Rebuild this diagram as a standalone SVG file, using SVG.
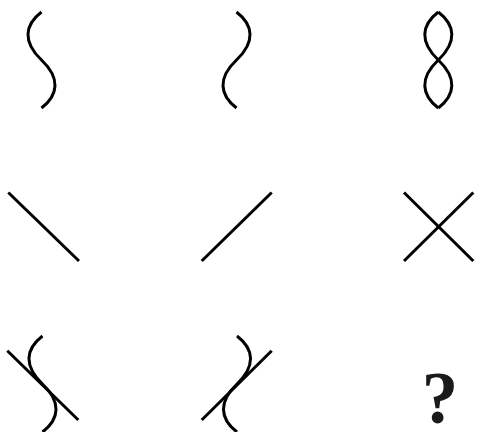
<svg xmlns="http://www.w3.org/2000/svg" width="478" height="432" viewBox="0 0 478 432">
  <defs>
    <style>
      .s { fill: none; stroke: #000; stroke-width: 3; }
      .q { font-family: "Liberation Serif", "Times New Roman", serif; font-weight: bold; font-size: 73px; fill: #1a1a1a; }
    </style>
    <path id="wave" d="M0,0 C-17,13 -19,30 0,48 C19,66 17,83 0,96"/>
  </defs>
  <rect width="478" height="432" fill="#fff"/>
  <g id="r1c1"><use href="#wave" class="s" transform="translate(41.5,12)"/></g>
  <g id="r1c2"><use href="#wave" class="s" transform="translate(236.5,12) scale(-1,1)"/></g>
  <g id="r1c3">
    <use href="#wave" class="s" transform="translate(438.3,12)"/>
    <use href="#wave" class="s" transform="translate(438.3,12) scale(-1,1)"/>
  </g>
  <g id="r2c1"><line class="s" x1="8.3" y1="192.5" x2="79" y2="261"/></g>
  <g id="r2c2"><line class="s" x1="201.7" y1="261" x2="271.7" y2="192.5"/></g>
  <g id="r2c3">
    <line class="s" x1="404" y1="192.5" x2="473.3" y2="261"/>
    <line class="s" x1="404" y1="261" x2="473.3" y2="192.5"/>
  </g>
  <g id="r3c1">
    <use href="#wave" class="s" transform="translate(42.5,336)"/>
    <line class="s" x1="7.3" y1="350.7" x2="78.3" y2="420"/>
  </g>
  <g id="r3c2">
    <use href="#wave" class="s" transform="translate(237,336) scale(-1,1)"/>
    <line class="s" x1="201.7" y1="420" x2="271.7" y2="350.7"/>
  </g>
  <g id="r3c3"><text class="q" x="440" y="423" text-anchor="middle">?</text></g>
</svg>
